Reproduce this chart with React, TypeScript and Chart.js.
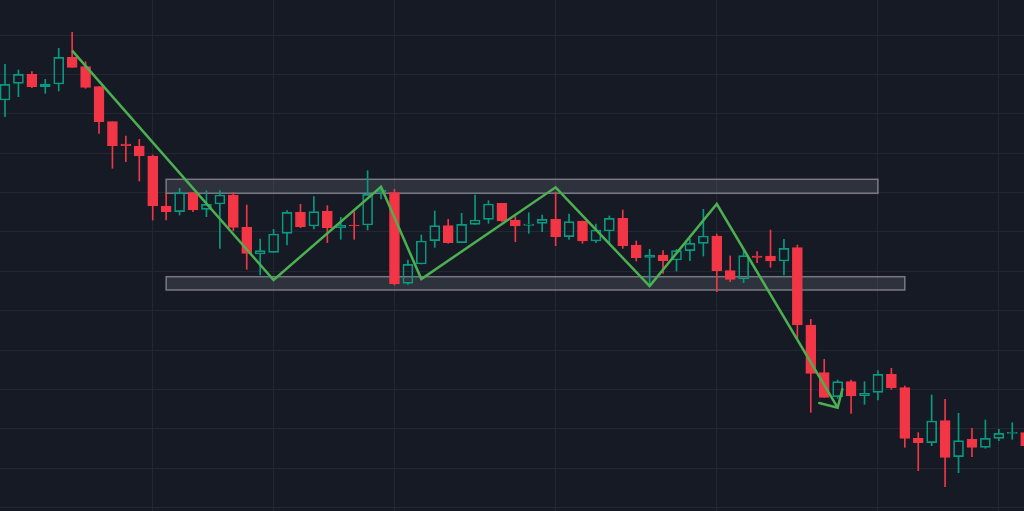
import { useEffect, useRef } from "react";
import { Chart, registerables } from "chart.js";

Chart.register(...registerables);

// ---- Data (price units) ----
const OPEN = [
  411, 427.7, 436.7, 424.3, 427, 453.7, 444.3, 424.3, 389.3, 367, 365, 355, 305, 299.3, 318.3, 301.7, 307, 316, 283.7, 257,
  258.7, 277.7, 298.7, 285, 300, 283.3, 286, 286, 319, 318.3, 227.7, 247, 270.3, 285.3, 268.3, 286.7, 291.7, 307.7, 291, 285.7,
  287.7, 291.7, 274.3, 290, 270, 280, 292.7, 266, 253.7, 256, 251, 260.3, 267.7, 275, 240.3, 232, 255, 255, 250, 263.3,
  186, 138.3, 114.3, 129.3, 115.3, 118.7, 136.7, 123.3, 72.7, 68.3, 90.3, 54.3, 71.7, 63.7, 72.7, 77.7, 78.3,
];
const HIGH = [
  446.7, 441, 439.3, 431.7, 462.7, 478.7, 449.3, 424.3, 389.3, 375, 371.7, 356, 317.7, 322.7, 318.3, 320.3, 320.3, 318.3, 306, 272,
  281.7, 300.3, 306.7, 314.3, 305.3, 293.7, 299.3, 340.3, 325, 321.7, 251, 276, 300, 291.7, 297.7, 316, 310.3, 307.7, 294.3, 298.3,
  296, 318.7, 297, 290, 287, 295, 301, 270, 261.7, 260.3, 261.7, 272, 301.7, 277, 255, 261, 259.3, 281, 271.7, 266,
  191.7, 151.7, 131, 131, 129.3, 140.3, 142.7, 125, 78.3, 116, 111.7, 97.7, 82.7, 91, 81.7, 88.3, 81,
];
const LOW = [
  394.3, 414.3, 423.3, 417.7, 420, 443.7, 422.7, 377.7, 342.7, 349.3, 330, 291, 291, 296, 299.3, 294.3, 262.7, 280.3, 241.7, 236,
  258.7, 266, 283.3, 282, 268.3, 271.7, 271.7, 281, 312, 226, 226.7, 247, 263.7, 267.7, 268.3, 286.7, 287.7, 289.3, 269.3, 277.7,
  279.3, 265.3, 271.7, 267.7, 268.3, 268.3, 262.7, 250, 226, 237.7, 240, 250.3, 255, 219.3, 229.3, 228.3, 248.3, 243.7, 236, 171.7,
  98.7, 113.7, 112.7, 97.7, 106.7, 111, 121.7, 63.7, 40.3, 65.3, 24.3, 38.3, 54.3, 62.7, 70.3, 71.7, 62,
];
const CLOSE = [
  426.7, 436.7, 424.3, 427, 453.7, 443.7, 423.7, 389.3, 365.3, 365.3, 355, 305, 299.3, 318.3, 301, 306.7, 316, 283.7, 257.7, 260.3,
  277, 298.7, 284.3, 299.3, 283.3, 285.7, 285, 316.7, 321, 227, 246.7, 270, 285.3, 268.3, 286.7, 291, 307, 290, 285, 287,
  291.7, 274.3, 289.3, 270, 281, 292.7, 265.3, 253.3, 256, 250.3, 260.3, 267.7, 275, 240.3, 231.7, 255.3, 253.5, 250, 262.7, 186,
  137.7, 113.7, 129.3, 115, 117.7, 136.7, 123.3, 72.7, 68.3, 90, 53.7, 70.3, 63.7, 72.7, 77.7, 78.7, 65.3,
];

// Zigzag drawing (candle index, price)
const ZIGZAG_INDEX = [5, 20, 28, 31, 41, 48, 53, 62];
const ZIGZAG_VALUE = [460.3, 231, 324.3, 232, 323.7, 225, 307, 103.3];

// Range boxes (from candle, to candle, top price, bottom price)
const BOX_FROM = [12, 12];
const BOX_TO = [65, 67];
const BOX_TOP = [331.7, 234.3];
const BOX_BOTTOM = [317.7, 221];

// Grid positions
const V_GRID = [11, 20, 29, 41, 53, 65, 74];
const H_GRID = [475.8, 436.5, 397.1, 357.8, 318.4, 279.1, 239.7, 200.4, 161.0, 121.7, 82.3, 43.0, 3.6];

const X_MIN = -0.372;
const X_MAX = 75.875;
const Y_MIN = 0;
const Y_MAX = 511;

const BG = "#161a25";
const GRID = "#232734";
const UP = "#089981";
const DOWN = "#f23645";
const LINE = "#4caf50";

export default function App() {
  const ref = useRef<HTMLCanvasElement | null>(null);

  useEffect(() => {
    document.body.style.margin = "0";
    document.body.style.background = BG;
    const canvas = ref.current;
    if (!canvas) return;

    const idx = OPEN.map((_, i) => i);
    const isUp = idx.map((i) => CLOSE[i] >= OPEN[i]);
    const colors = idx.map((i) => (isUp[i] ? UP : DOWN));

    const bodies = idx.map((i) => ({ x: i, y: [OPEN[i], CLOSE[i]] }));
    const upperWicks = idx.map((i) => ({ x: i, y: [Math.max(OPEN[i], CLOSE[i]), HIGH[i]] }));
    const lowerWicks = idx.map((i) => ({ x: i, y: [LOW[i], Math.min(OPEN[i], CLOSE[i])] }));
    const zigzag = ZIGZAG_INDEX.map((x, k) => ({ x, y: ZIGZAG_VALUE[k] }));

    const bgPlugin = {
      id: "bg",
      beforeDraw(chart: any) {
        const c = chart.ctx;
        c.save();
        c.fillStyle = BG;
        c.fillRect(0, 0, chart.width, chart.height);
        c.restore();
      },
    };

    const boxPlugin = {
      id: "boxes",
      beforeDatasetsDraw(chart: any) {
        const c = chart.ctx;
        const xs = chart.scales.x;
        const ys = chart.scales.y;
        c.save();
        for (let k = 0; k < BOX_FROM.length; k++) {
          const x1 = xs.getPixelForValue(BOX_FROM[k]);
          const x2 = xs.getPixelForValue(BOX_TO[k]);
          const y1 = ys.getPixelForValue(BOX_TOP[k]);
          const y2 = ys.getPixelForValue(BOX_BOTTOM[k]);
          c.fillStyle = "rgba(120,123,134,0.25)";
          c.fillRect(x1, y1, x2 - x1, y2 - y1);
          c.strokeStyle = "rgba(140,143,153,0.8)";
          c.lineWidth = 1.5;
          c.strokeRect(x1, y1, x2 - x1, y2 - y1);
        }
        c.restore();
      },
    };

    const arrowPlugin = {
      id: "arrowhead",
      afterDatasetsDraw(chart: any) {
        const meta = chart.getDatasetMeta(3);
        const pts = meta.data;
        if (!pts || pts.length < 2) return;
        const a = pts[pts.length - 2];
        const b = pts[pts.length - 1];
        const ang = Math.atan2(a.y - b.y, a.x - b.x);
        const len = 19;
        const spread = Math.PI / 4;
        const c = chart.ctx;
        c.save();
        c.strokeStyle = LINE;
        c.lineWidth = 2.5;
        c.lineCap = "round";
        c.beginPath();
        c.moveTo(b.x + len * Math.cos(ang - spread), b.y + len * Math.sin(ang - spread));
        c.lineTo(b.x, b.y);
        c.lineTo(b.x + len * Math.cos(ang + spread), b.y + len * Math.sin(ang + spread));
        c.stroke();
        c.restore();
      },
    };

    const chart = new Chart(canvas, {
      type: "bar",
      data: {
        datasets: [
          {
            type: "bar",
            data: upperWicks as any,
            backgroundColor: colors,
            borderWidth: 0,
            barThickness: 1,
            grouped: false,
            order: 3,
          } as any,
          {
            type: "bar",
            data: lowerWicks as any,
            backgroundColor: colors,
            borderWidth: 0,
            barThickness: 1,
            grouped: false,
            order: 3,
          } as any,
          {
            type: "bar",
            data: bodies as any,
            backgroundColor: idx.map((i) => (isUp[i] ? "rgba(0,0,0,0)" : DOWN)),
            borderColor: colors,
            borderWidth: 1,
            borderSkipped: false,
            barThickness: 10,
            grouped: false,
            order: 2,
          } as any,
          {
            type: "line",
            data: zigzag as any,
            borderColor: LINE,
            borderWidth: 2.5,
            pointRadius: 0,
            tension: 0,
            fill: false,
            order: 1,
          } as any,
        ],
      },
      options: {
        animation: false,
        responsive: true,
        maintainAspectRatio: false,
        layout: { padding: 0 },
        plugins: { legend: { display: false }, tooltip: { enabled: false } },
        scales: {
          x: {
            type: "linear",
            min: X_MIN,
            max: X_MAX,
            offset: false,
            border: { display: false },
            grid: { color: GRID, lineWidth: 1, drawTicks: false, offset: false },
            ticks: { display: false },
            afterBuildTicks: (s: any) => {
              s.ticks = V_GRID.map((v) => ({ value: v }));
            },
          },
          y: {
            type: "linear",
            min: Y_MIN,
            max: Y_MAX,
            border: { display: false },
            grid: { color: GRID, lineWidth: 1, drawTicks: false, offset: false },
            ticks: { display: false },
            afterBuildTicks: (s: any) => {
              s.ticks = H_GRID.map((v) => ({ value: v }));
            },
          },
        },
      } as any,
      plugins: [bgPlugin, boxPlugin, arrowPlugin],
    });

    return () => chart.destroy();
  }, []);

  return (
    <div style={{ width: 1024, height: 511, position: "relative", background: BG }}>
      <canvas ref={ref} />
    </div>
  );
}
